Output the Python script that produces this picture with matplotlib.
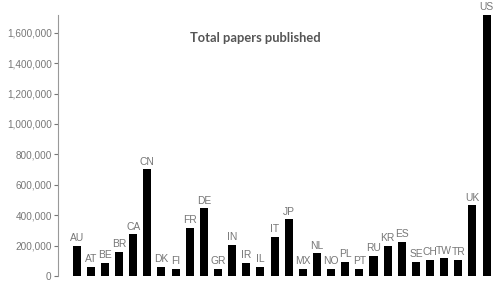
# Total papers published per country, bar chart with labels above bars.
import matplotlib
matplotlib.use("Agg")
import matplotlib.pyplot as plt
from matplotlib.ticker import FuncFormatter

plt.rcParams["font.family"] = ["Liberation Sans", "DejaVu Sans"]

countries = ["AU", "AT", "BE", "BR", "CA", "CN", "DK", "FI", "FR", "DE",
             "GR", "IN", "IR", "IL", "IT", "JP", "MX", "NL", "NO", "PL",
             "PT", "RU", "KR", "ES", "SE", "CH", "TW", "TR", "UK", "US"]
papers = [200000, 61000, 88000, 158000, 274000, 702000, 58000, 45000, 314000, 445000,
          45000, 204000, 84000, 58000, 259000, 373000, 45000, 149000, 45000, 94000,
          45000, 134000, 197000, 226000, 94000, 105000, 116000, 105000, 465000, 1717000]
yticks = [0, 200000, 400000, 600000, 800000, 1000000, 1200000, 1400000, 1600000]

GREY = "#777777"

fig = plt.figure(figsize=(5.0, 2.85), dpi=100)
ax = fig.add_axes([0.116, 0.0316, 0.884, 0.9158])

x = list(range(len(countries)))
ax.bar(x, papers, width=0.57, color="black")

for xi, name, val in zip(x, countries, papers):
    ax.annotate(name, (xi, val), xytext=(0, 2), textcoords="offset points",
                ha="center", va="bottom", fontsize=7.4, color=GREY,
                annotation_clip=False)

ax.set_xlim(-1.32, 29.95)
ax.set_ylim(0, max(papers))
ax.set_yticks(yticks)
ax.yaxis.set_major_formatter(FuncFormatter(lambda v, _: f"{int(v):,}"))
ax.tick_params(axis="y", colors=GREY, labelsize=7.2, length=3, width=0.8, pad=1.5)
ax.set_xticks([])

for side in ["top", "right", "bottom"]:
    ax.spines[side].set_visible(False)
ax.spines["left"].set_color("#999999")
ax.spines["left"].set_linewidth(0.8)

fig.text(0.511, 1 - 38 / 285, "Total papers published", ha="center", va="center",
         fontsize=9.3, fontweight="bold", color="#555555", family="Lato")

fig.savefig("out.png", dpi=100)
